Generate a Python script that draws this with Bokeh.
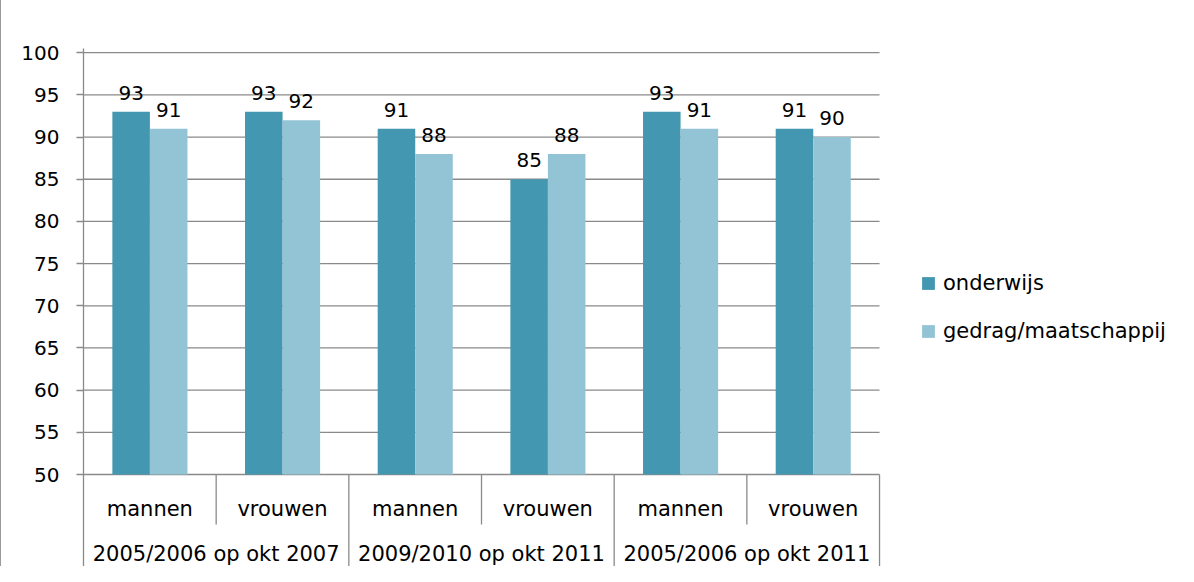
from bokeh.plotting import figure
from bokeh.models import Range1d, FixedTicker, ColumnDataSource, Legend, LegendItem
from bokeh.core.properties import value
from bokeh.embed import file_html
from bokeh.resources import INLINE

# ---- data ----
groups = ["2005/2006 op okt 2007", "2009/2010 op okt 2011", "2005/2006 op okt 2011"]
sexes = ["mannen", "vrouwen", "mannen", "vrouwen", "mannen", "vrouwen"]
onderwijs = [93, 93, 91, 85, 93, 91]
gedrag = [91, 92, 88, 88, 91, 90]
series_names = ["onderwijs", "gedrag/maatschappij"]
y_ticks = [50, 55, 60, 65, 70, 75, 80, 85, 90, 95, 100]

# ---- style ----
FONT = value("DejaVu Sans")
DARK = "#4397b0"
LIGHT = "#93c4d5"
GRID = "#8a8a8a"

PX = 426 / 50.5          # pixels per y unit
Y1 = 100.5
Y0 = 50 - 92 / PX
X1 = 1096 / 132.67
n = len(sexes)

p = figure(width=1178, height=566, output_backend="svg", toolbar_location=None,
           x_axis_type=None, x_range=Range1d(0, X1), y_range=Range1d(Y0, Y1),
           min_border_left=82, min_border_right=0, min_border_top=48, min_border_bottom=0)
p.outline_line_color = None
p.xgrid.visible = False
p.ygrid.visible = False
p.background_fill_color = "white"
p.border_fill_color = "white"
p.styles = {"border-left": "1px solid #9a9a9a"}

ya = p.yaxis[0]
ya.ticker = FixedTicker(ticks=y_ticks)
ya.axis_line_color = GRID
ya.axis_line_width = 1.3
ya.major_tick_line_color = GRID
ya.major_tick_line_width = 1.3
ya.major_tick_out = 7
ya.major_tick_in = 0
ya.minor_tick_line_color = None
ya.major_label_text_font = "DejaVu Sans"
ya.major_label_text_font_size = "20px"
ya.major_label_text_color = "black"
ya.major_label_standoff = 17

# gridlines (within the category area only)
p.segment(x0=[0] * len(y_ticks), x1=[n] * len(y_ticks), y0=y_ticks, y1=y_ticks,
          line_color=GRID, line_width=1.3)

# bars
xs = list(range(n))
src = ColumnDataSource(dict(
    xd=[i + 0.359 for i in xs], xl=[i + 0.642 for i in xs],
    o=onderwijs, g=gedrag,
    ot=[str(v) for v in onderwijs], gt=[str(v) for v in gedrag],
    oy=[v + 2.25 for v in onderwijs], gy=[v + 2.25 for v in gedrag],
))
r1 = p.vbar(x="xd", top="o", bottom=50, width=0.283, fill_color=DARK, line_color=None, source=src)
r2 = p.vbar(x="xl", top="g", bottom=50, width=0.283, fill_color=LIGHT, line_color=None, source=src)

# data labels
p.text(x="xd", y="oy", text="ot", source=src, text_font=FONT, text_font_size="20px",
       text_align="center", text_baseline="alphabetic", text_color="black")
p.text(x="xl", y="gy", text="gt", source=src, text_font=FONT, text_font_size="20px",
       text_align="center", text_baseline="alphabetic", text_color="black")

# category axis (two levels)
y_lvl1 = 50 - 34 / PX
y_lvl2 = 50 - 79 / PX
y_short = 50 - 50 / PX

p.text(x=[i + 0.5 for i in xs], y=[y_lvl1] * n, text=sexes, text_font=FONT,
       text_font_size="21px", text_align="center", text_baseline="middle", text_color="black")
p.text(x=[2 * g + 1 for g in range(len(groups))], y=[y_lvl2] * len(groups), text=groups,
       text_font=FONT, text_font_size="21px", text_align="center", text_baseline="middle",
       text_color="black")

short_x = [i for i in range(1, n) if i % 2 == 1]
long_x = [i for i in range(1, n) if i % 2 == 0]
p.segment(x0=short_x, x1=short_x, y0=[50] * len(short_x), y1=[y_short] * len(short_x),
          line_color=GRID, line_width=1.3)
p.segment(x0=long_x + [n], x1=long_x + [n], y0=[50] * (len(long_x) + 1),
          y1=[Y0 - 1] * (len(long_x) + 1), line_color=GRID, line_width=1.3)

legend = Legend(items=[LegendItem(label=series_names[0], renderers=[r1]),
                       LegendItem(label=series_names[1], renderers=[r2])],
                location=(837, 223))
legend.label_text_font = "DejaVu Sans"
legend.label_text_font_size = "21px"
legend.label_text_color = "black"
legend.glyph_width = 16
legend.glyph_height = 16
legend.label_standoff = 7
legend.spacing = 24
legend.padding = 0
legend.margin = 0
legend.border_line_color = None
legend.background_fill_alpha = 0
p.add_layout(legend)

open("out.html", "w").write(file_html(p, INLINE))
